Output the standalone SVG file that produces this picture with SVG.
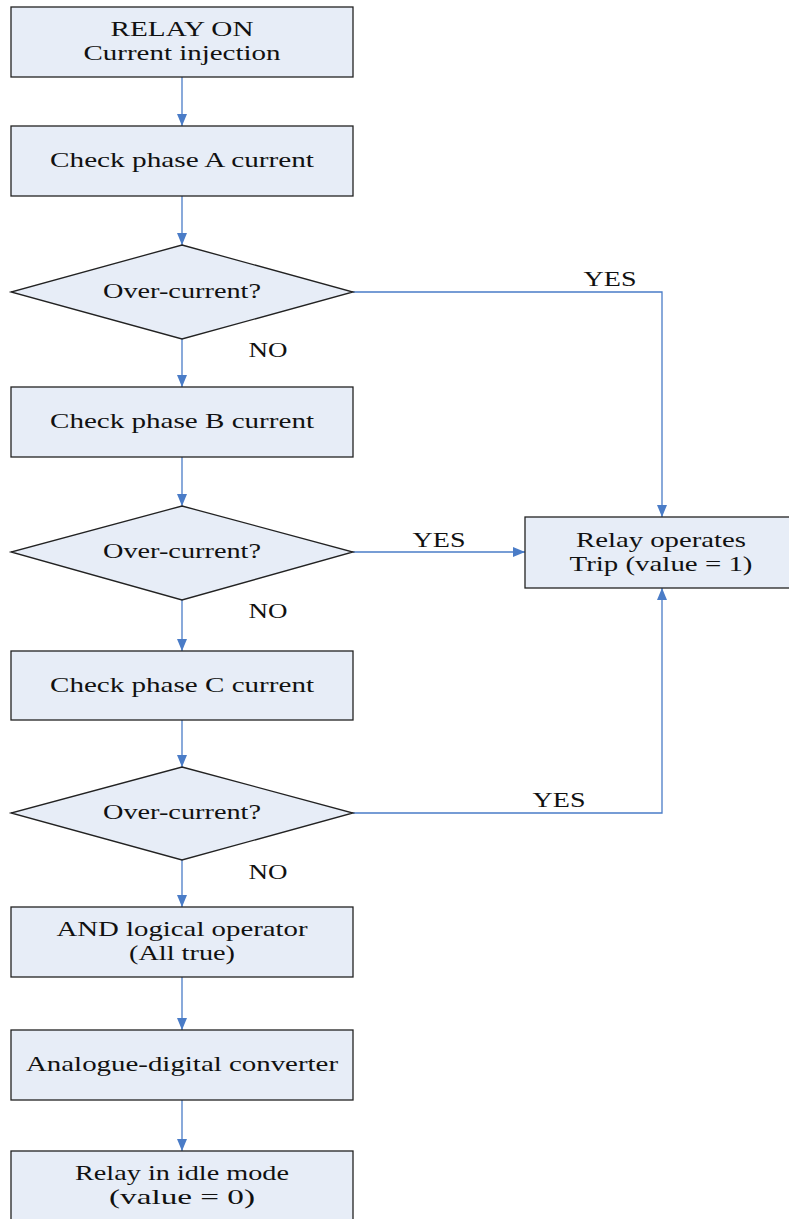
<svg xmlns="http://www.w3.org/2000/svg" width="789" height="1219" viewBox="0 0 789 1219">
<style>
.n{fill:#e7edf7;stroke:#222;stroke-width:1.3}
.t{font-family:"Liberation Serif","Times New Roman",serif;font-size:21px;fill:#111;text-anchor:middle}
.c{fill:none;stroke:#4a7cc7;stroke-width:1.3}
</style>
<defs>
<marker id="a" markerWidth="12" markerHeight="10" refX="12" refY="5" orient="auto" markerUnits="userSpaceOnUse">
<path d="M0,0 L12,5 L0,10 z" fill="#4a7cc7"/>
</marker>
</defs>
<rect width="789" height="1219" fill="#fff"/>
<g id="connectors">
<line class="c" x1="182" y1="77" x2="182" y2="126" marker-end="url(#a)"/>
<line class="c" x1="182" y1="196" x2="182" y2="245" marker-end="url(#a)"/>
<line class="c" x1="182" y1="339" x2="182" y2="387" marker-end="url(#a)"/>
<line class="c" x1="182" y1="457" x2="182" y2="506" marker-end="url(#a)"/>
<line class="c" x1="182" y1="600" x2="182" y2="651" marker-end="url(#a)"/>
<line class="c" x1="182" y1="720" x2="182" y2="767" marker-end="url(#a)"/>
<line class="c" x1="182" y1="860" x2="182" y2="907" marker-end="url(#a)"/>
<line class="c" x1="182" y1="977" x2="182" y2="1030" marker-end="url(#a)"/>
<line class="c" x1="182" y1="1100" x2="182" y2="1151" marker-end="url(#a)"/>
<polyline class="c" points="353,292 662,292 662,517" marker-end="url(#a)"/>
<line class="c" x1="353" y1="552" x2="525" y2="552" marker-end="url(#a)"/>
<polyline class="c" points="353,813 662,813 662,588" marker-end="url(#a)"/>
<text class="t" x="610" y="286" textLength="53" lengthAdjust="spacingAndGlyphs">YES</text>
<text class="t" x="439" y="547" textLength="53" lengthAdjust="spacingAndGlyphs">YES</text>
<text class="t" x="559" y="807" textLength="53" lengthAdjust="spacingAndGlyphs">YES</text>
<text class="t" x="268" y="357" textLength="39" lengthAdjust="spacingAndGlyphs">NO</text>
<text class="t" x="268" y="618" textLength="39" lengthAdjust="spacingAndGlyphs">NO</text>
<text class="t" x="268" y="879" textLength="39" lengthAdjust="spacingAndGlyphs">NO</text>
</g>
<g id="n1"><rect class="n" x="11" y="7" width="342" height="70"/><text class="t" x="182" y="36" textLength="143" lengthAdjust="spacingAndGlyphs">RELAY ON</text><text class="t" x="182" y="60" textLength="197" lengthAdjust="spacingAndGlyphs">Current injection</text></g>
<g id="n2"><rect class="n" x="11" y="126" width="342" height="70"/><text class="t" x="182" y="167" textLength="264" lengthAdjust="spacingAndGlyphs">Check phase A current</text></g>
<g id="d1"><polygon class="n" points="182,245 353,292 182,339 11,292"/><text class="t" x="182" y="298" textLength="158" lengthAdjust="spacingAndGlyphs">Over-current?</text></g>
<g id="n3"><rect class="n" x="11" y="387" width="342" height="70"/><text class="t" x="182" y="428" textLength="264" lengthAdjust="spacingAndGlyphs">Check phase B current</text></g>
<g id="d2"><polygon class="n" points="182,506 353,552 182,600 11,552"/><text class="t" x="182" y="558" textLength="158" lengthAdjust="spacingAndGlyphs">Over-current?</text></g>
<g id="n4"><rect class="n" x="11" y="651" width="342" height="69"/><text class="t" x="182" y="692" textLength="264" lengthAdjust="spacingAndGlyphs">Check phase C current</text></g>
<g id="d3"><polygon class="n" points="182,767 353,813 182,860 11,813"/><text class="t" x="182" y="819" textLength="158" lengthAdjust="spacingAndGlyphs">Over-current?</text></g>
<g id="n5"><rect class="n" x="11" y="907" width="342" height="70"/><text class="t" x="182" y="936" textLength="251" lengthAdjust="spacingAndGlyphs">AND logical operator</text><text class="t" x="182" y="960" textLength="106" lengthAdjust="spacingAndGlyphs">(All true)</text></g>
<g id="n6"><rect class="n" x="11" y="1030" width="342" height="70"/><text class="t" x="182" y="1071" textLength="312" lengthAdjust="spacingAndGlyphs">Analogue-digital converter</text></g>
<g id="n7"><rect class="n" x="11" y="1151" width="342" height="75"/><text class="t" x="182" y="1180" textLength="214" lengthAdjust="spacingAndGlyphs">Relay in idle mode</text><text class="t" x="182" y="1204" textLength="146" lengthAdjust="spacingAndGlyphs">(value = 0)</text></g>
<g id="n8"><rect class="n" x="525" y="517" width="270" height="71"/><text class="t" x="661" y="547" textLength="170" lengthAdjust="spacingAndGlyphs">Relay operates</text><text class="t" x="661" y="571" textLength="183" lengthAdjust="spacingAndGlyphs">Trip (value = 1)</text></g>
</svg>
